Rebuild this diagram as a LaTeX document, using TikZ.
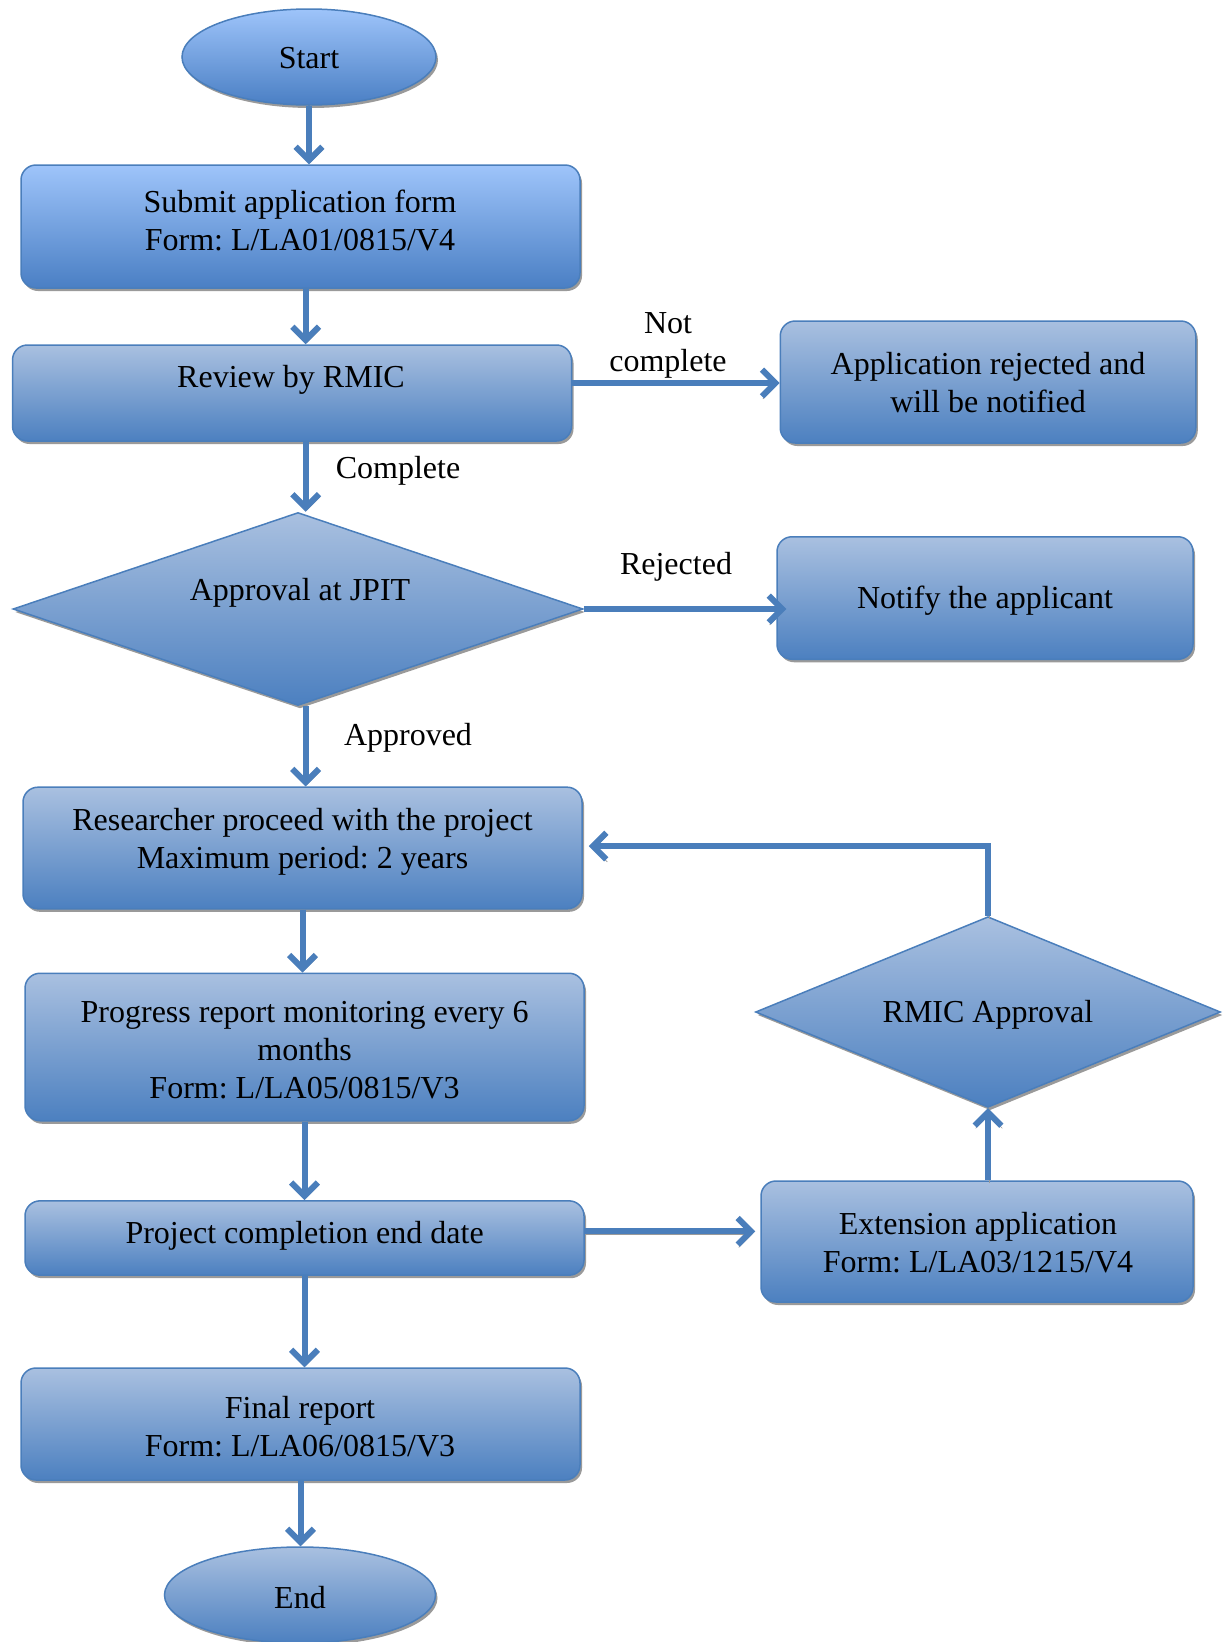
\documentclass[tikz,border=0pt]{standalone}
\usepackage{fontspec}
\setmainfont{Liberation Serif}
\usetikzlibrary{shapes.geometric,shadows,arrows.meta}

\definecolor{edgeblue}{HTML}{4A7EBB}
\definecolor{topbright}{HTML}{9EC4FA}
\definecolor{botbright}{HTML}{4A7FC4}
\definecolor{topsoft}{HTML}{A9C0E0}
\definecolor{botsoft}{HTML}{4C80C0}
\definecolor{shadowgray}{HTML}{9A9A9A}

\tikzset{
  base/.style={draw=edgeblue, line width=0.9pt, top color=topsoft, bottom color=botsoft,
    drop shadow={shadow xshift=1.2pt, shadow yshift=-1.8pt, fill=shadowgray, opacity=1},
    inner sep=0pt},
  bright/.style={top color=topbright, bottom color=botbright},
  roundbox/.style={base, rectangle, rounded corners=9pt},
  oval/.style={base, ellipse},
  decision/.style={base, diamond},
  flow/.style={draw=edgeblue, line width=3.6pt,
    -{Straight Barb[length=8pt,width=16pt]},
    preaction={draw=shadowgray, transform canvas={shift={(0.6pt,-1.6pt)}}}},
  txt/.style={font=\fontsize{19.2}{22.8}\selectfont\frenchspacing, align=center, inner sep=0pt}
}

\begin{document}
\begin{tikzpicture}[x=0.6pt, y=-0.6pt]
\useasboundingbox (0,0) rectangle (1229,1642);

% shapes
\node[oval, bright, minimum width=152.4pt, minimum height=57.6pt] (start) at (309,57) {};
\node[roundbox, bright, minimum width=335.4pt, minimum height=73.8pt] (submit) at (300.5,226.5) {};
\node[roundbox, minimum width=335.4pt, minimum height=57.6pt] (review) at (292,393) {};
\node[roundbox, minimum width=249.3pt, minimum height=73.2pt] (rej) at (988,382) {};
\node[decision, minimum width=342pt, minimum height=115.8pt] (jpit) at (298,609) {};
\node[roundbox, minimum width=249.6pt, minimum height=73.5pt] (notify) at (985,598) {};
\node[roundbox, minimum width=335.4pt, minimum height=73pt] (research) at (302.5,848) {};
\node[roundbox, minimum width=335.4pt, minimum height=88.5pt] (progress) at (304.5,1047) {};
\node[roundbox, minimum width=335.4pt, minimum height=44.6pt] (projend) at (304.5,1238) {};
\node[roundbox, minimum width=259.2pt, minimum height=72.6pt] (ext) at (977,1241.5) {};
\node[decision, minimum width=279pt, minimum height=114.4pt] (rmic) at (988,1012) {};
\node[roundbox, minimum width=335.4pt, minimum height=67.2pt] (final) at (300.5,1424) {};
\node[oval, minimum width=162.6pt, minimum height=57.6pt] (end) at (300,1595) {};

% texts
\node[txt] (t-start) at (309,58) {Start};
\node[txt] (t-submit) at (300,220) {Submit application form\\Form: L/LA01/0815/V4};
\node[txt] (t-review) at (291,380) {Review by RMIC};
\node[txt] (t-rej) at (988,383) {Application rejected and\\will be notified};
\node[txt] (t-jpit) at (300,593) {Approval at JPIT};
\node[txt] (t-notify) at (985,601) {Notify the applicant};
\node[txt] (t-research) at (302.5,842) {Researcher proceed with the project\\Maximum period: 2 years};
\node[txt] (t-progress) at (304.6,1050) {Progress report monitoring every 6\\months\\Form: L/LA05/0815/V3};
\node[txt] (t-projend) at (304.6,1236) {Project completion end date};
\node[txt] (t-ext) at (978,1243) {Extension application\\Form: L/LA03/1215/V4};
\node[txt] (t-rmic) at (988,1015) {RMIC Approval};
\node[txt] (t-final) at (300,1427) {Final report\\Form: L/LA06/0815/V3};
\node[txt] (t-end) at (300,1598) {End};

% edge labels
\node[txt] (l-notcomplete) at (668,345) {Not\\complete};
\node[txt] (l-complete) at (398,471) {Complete};
\node[txt] (l-rejected) at (676,567) {Rejected};
\node[txt] (l-approved) at (408,738) {Approved};

% connectors
\draw[flow] (start.south) -- (start.south |- submit.north);
\draw[flow] ([xshift=3.1pt]submit.south) -- ([xshift=3.1pt]submit.south |- review.north);
\draw[flow] ([xshift=8.2pt]review.south) -- ([xshift=8.2pt]review.south |- jpit.north);
\draw[flow] ([yshift=6pt]review.east) -- ([yshift=6pt]review.east -| rej.west);
\draw[flow] (jpit.east) -- ([xshift=6pt]jpit.east -| notify.west);
\draw[flow] ([xshift=4.6pt]jpit.south) -- ([xshift=4.6pt]jpit.south |- research.north);
\draw[flow] (research.south) -- (research.south |- progress.north);
\draw[flow] (progress.south) -- (progress.south |- projend.north);
\draw[flow] ([yshift=4pt]projend.east) -- ([yshift=4pt, xshift=-3pt]projend.east -| ext.west);
\draw[flow] (rmic.south |- ext.north) -- (rmic.south);
\draw[flow] (rmic.north) |- ([xshift=3.6pt, yshift=1.2pt]research.east);
\draw[flow] (projend.south) -- (projend.south |- final.north);
\draw[flow] (final.south) -- (final.south |- end.north);
\end{tikzpicture}
\end{document}
